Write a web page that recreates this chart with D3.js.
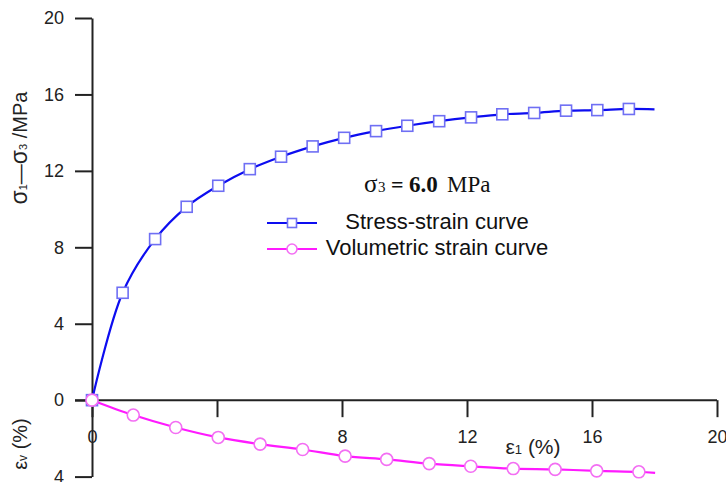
<!DOCTYPE html>
<html>
<head>
<meta charset="utf-8">
<script src="https://cdn.jsdelivr.net/npm/d3@7"></script>
<style>
  body { margin: 0; background: #fff; }
  svg { display: block; }
</style>
</head>
<body>
<div id="chart"></div>
<script>
// stress-strain curve (squares)
const stressX = [0, 0.98, 2.02, 3.03, 4.04, 5.05, 6.05, 7.06, 8.07, 9.09, 10.09, 11.11, 12.13, 13.13, 14.15, 15.17, 16.17, 17.18, 18.0]
const stressY = [0, 5.62, 8.43, 10.12, 11.22, 12.09, 12.74, 13.28, 13.73, 14.08, 14.36, 14.6, 14.8, 14.96, 15.03, 15.15, 15.18, 15.24, 15.22]
// volumetric strain curve (circles), ev in % (drawn downward)
const volX = [0, 1.32, 2.68, 4.04, 5.38, 6.74, 8.10, 9.43, 10.79, 12.12, 13.48, 14.82, 16.15, 17.5, 18.02]
const volY = [0, 0.78, 1.43, 1.95, 2.30, 2.58, 2.93, 3.10, 3.32, 3.46, 3.58, 3.62, 3.70, 3.75, 3.80]

const xTicks = [0, 4, 8, 12, 16, 20]
const xTickLabels = ['0', '', '8', '12', '16', '20']
const yTicks = [-4, 0, 4, 8, 12, 16, 20]

const width = 726
const height = 482

const x = d3.scaleLinear().domain([0, 20]).range([92, 717])
const y = d3.scaleLinear().domain([-4, 20]).range([476.6, 18])

const svg = d3.select('#chart').append('svg')
  .attr('width', width)
  .attr('height', height)
  .attr('xmlns', 'http://www.w3.org/2000/svg')

const axisFont = 'Liberation Sans, Arial, sans-serif'
const serifFont = 'Liberation Serif, Times New Roman, serif'

// --- y axis ---
const yAxis = svg.append('g')
  .attr('transform', `translate(${x(0)},0)`)
  .call(d3.axisLeft(y).tickValues(yTicks).tickSize(17).tickSizeOuter(0).tickPadding(11)
    .tickFormat(d => Math.abs(d)))
yAxis.select('.domain').attr('stroke', '#222').attr('stroke-width', 2)
yAxis.selectAll('.tick line').attr('stroke', '#222').attr('stroke-width', 2)
yAxis.selectAll('.tick text')
  .attr('font-family', axisFont).attr('font-size', 18).attr('fill', '#222')

// --- x axis ---
const xAxis = svg.append('g')
  .attr('transform', `translate(0,${y(0)})`)
  .call(d3.axisBottom(x).tickValues(xTicks).tickSize(17).tickSizeOuter(0)
    .tickFormat((d, i) => xTickLabels[i]))
xAxis.select('.domain').attr('stroke', '#222').attr('stroke-width', 2)
  .attr('d', `M${x(0) - 17},0H${x(20)}`)
xAxis.selectAll('.tick line').attr('stroke', '#222').attr('stroke-width', 2)
xAxis.selectAll('.tick text')
  .attr('y', 43).attr('dy', 0)
  .attr('font-family', axisFont).attr('font-size', 18).attr('fill', '#222')

// --- axis titles ---
const t1 = svg.append('text')
  .attr('transform', 'translate(27,148) rotate(-90)')
  .attr('text-anchor', 'middle')
  .attr('font-family', axisFont).attr('font-size', 20).attr('fill', '#222')
t1.append('tspan').attr('font-size', 23).text('σ')
t1.append('tspan').attr('font-size', 11).text('1')
t1.append('tspan').text('—')
t1.append('tspan').attr('font-size', 23).text('σ')
t1.append('tspan').attr('font-size', 11).text('3')
t1.append('tspan').text(' /MPa')

const t2 = svg.append('text')
  .attr('transform', 'translate(27,444) rotate(-90)')
  .attr('text-anchor', 'middle')
  .attr('font-family', axisFont).attr('font-size', 20).attr('fill', '#222')
t2.append('tspan').text('ε')
t2.append('tspan').attr('font-size', 12).text('v')
t2.append('tspan').text(' (%)')

const t3 = svg.append('text')
  .attr('x', 533).attr('y', 454)
  .attr('text-anchor', 'middle')
  .attr('font-family', axisFont).attr('font-size', 21).attr('fill', '#222')
t3.append('tspan').text('ε')
t3.append('tspan').attr('font-size', 13).text('1')
t3.append('tspan').text(' (%)')

// --- curves ---
const stress = stressX.map((d, i) => ({x: d, y: stressY[i]}))
const vol = volX.map((d, i) => ({x: d, y: -volY[i]}))

const line = d3.line().x(d => x(d.x)).y(d => y(d.y)).curve(d3.curveCatmullRom.alpha(0.5))

svg.append('path').datum(vol)
  .attr('d', line).attr('fill', 'none')
  .attr('stroke', '#ff1aff').attr('stroke-width', 2.2)

svg.append('path').datum(stress)
  .attr('d', line).attr('fill', 'none')
  .attr('stroke', '#0d0df0').attr('stroke-width', 2.2)

const sq = 11
svg.append('g').selectAll('rect')
  .data(stress.slice(0, -1))
  .join('rect')
    .attr('x', d => x(d.x) - sq / 2)
    .attr('y', d => y(d.y) - sq / 2)
    .attr('width', sq).attr('height', sq)
    .attr('fill', '#fff').attr('stroke', '#6f6ff4').attr('stroke-width', 1.6)

svg.append('g').selectAll('circle')
  .data(vol.slice(0, -1))
  .join('circle')
    .attr('cx', d => x(d.x))
    .attr('cy', d => y(d.y))
    .attr('r', 6)
    .attr('fill', '#fff').attr('stroke', '#f36ef3').attr('stroke-width', 1.6)

// --- legend ---
const noteParts = [
  {text: 'σ', x: 364, size: 25, weight: 'normal'},
  {text: '3', x: 378, size: 15, weight: 'normal'},
  {text: '=', x: 391, size: 22, weight: 'bold'},
  {text: '6.0', x: 409, size: 23, weight: 'bold'},
  {text: 'MPa', x: 447, size: 23, weight: 'normal'}
]
svg.append('g').selectAll('text')
  .data(noteParts)
  .join('text')
    .attr('x', d => d.x).attr('y', 192)
    .attr('font-family', serifFont)
    .attr('font-size', d => d.size).attr('font-weight', d => d.weight)
    .attr('fill', '#111')
    .text(d => d.text)

const legend = [
  {label: 'Stress-strain curve', line: '#0d0df0', mark: '#6f6ff4', shape: 'square', y: 223},
  {label: 'Volumetric strain curve', line: '#ff1aff', mark: '#f36ef3', shape: 'circle', y: 249}
]
const lg = svg.append('g').selectAll('g').data(legend).join('g')
lg.append('line')
  .attr('x1', 267).attr('x2', 317).attr('y1', d => d.y).attr('y2', d => d.y)
  .attr('stroke', d => d.line).attr('stroke-width', 2.2)
lg.filter(d => d.shape === 'square').append('rect')
  .attr('x', 292 - 4.5).attr('y', d => d.y - 4.5).attr('width', 9).attr('height', 9)
  .attr('fill', '#fff').attr('stroke', d => d.mark).attr('stroke-width', 1.6)
lg.filter(d => d.shape === 'circle').append('circle')
  .attr('cx', 292).attr('cy', d => d.y).attr('r', 5)
  .attr('fill', '#fff').attr('stroke', d => d.mark).attr('stroke-width', 1.6)
lg.append('text')
  .attr('x', 437).attr('y', d => d.y + 6)
  .attr('text-anchor', 'middle')
  .attr('font-family', axisFont).attr('font-size', 22).attr('fill', '#111')
  .text(d => d.label)
</script>
</body>
</html>
